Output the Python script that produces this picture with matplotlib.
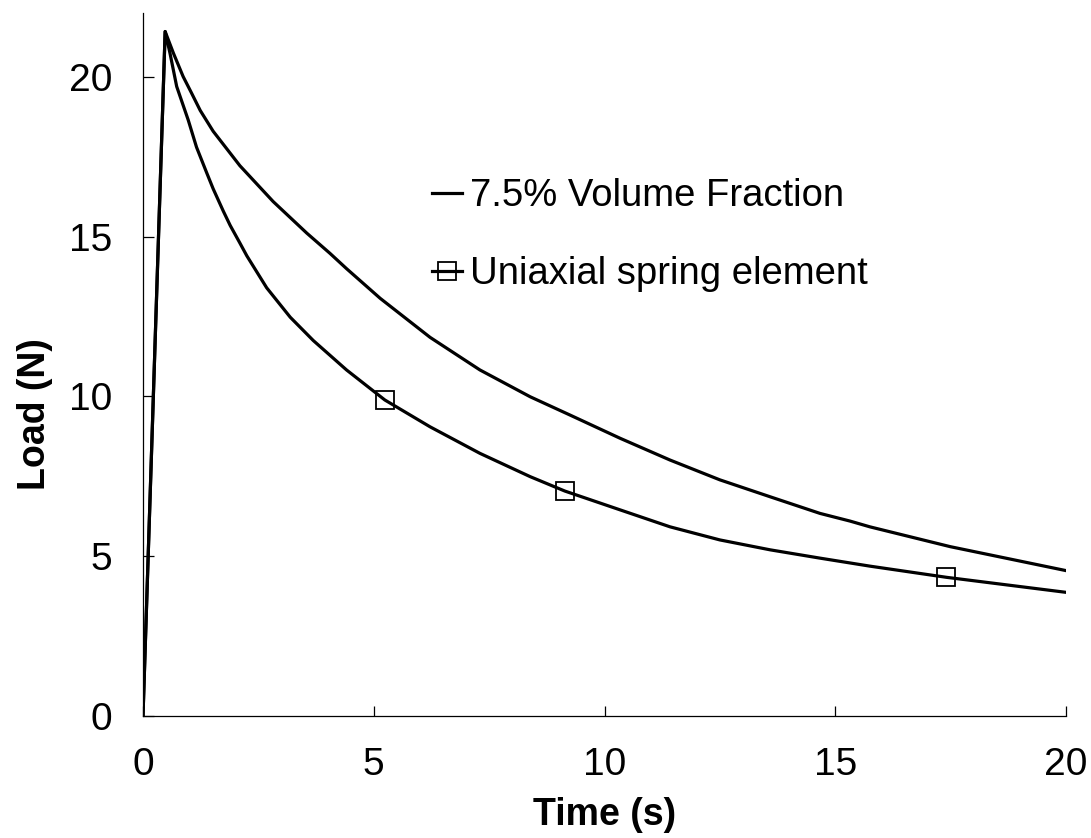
import matplotlib
matplotlib.use("Agg")
import matplotlib.pyplot as plt

plt.rcParams['font.family'] = ['Liberation Sans', 'DejaVu Sans']

# Data
t_upper = [0, 0.48, 0.66, 0.87, 1.05, 1.24, 1.52, 2.10, 2.82, 3.55, 4.05, 4.41, 5.14,
           6.22, 7.30, 8.39, 9.25, 10.34, 11.42, 12.50, 13.59, 14.67, 15.32, 15.75,
           17.49, 20.0]
load_upper = [0, 21.42, 20.74, 20.01, 19.50, 18.95, 18.30, 17.22, 16.10, 15.11, 14.48,
              14.00, 13.07, 11.85, 10.83, 9.99, 9.42, 8.69, 8.01, 7.39, 6.86, 6.34,
              6.10, 5.92, 5.30, 4.55]

t_lower = [0, 0.48, 0.585, 0.73, 0.98, 1.16, 1.38, 1.52, 1.74, 1.89, 2.10, 2.25, 2.68,
           3.19, 3.69, 4.41, 5.24, 6.22, 7.30, 8.39, 9.14, 10.34, 11.42, 12.50, 13.59,
           14.67, 15.75, 17.41, 20.0]
load_lower = [0, 21.42, 20.74, 19.70, 18.65, 17.80, 17.00, 16.50, 15.80, 15.35, 14.80,
              14.40, 13.40, 12.48, 11.75, 10.83, 9.89, 9.05, 8.22, 7.49, 7.04, 6.45,
              5.92, 5.51, 5.20, 4.94, 4.69, 4.34, 3.87]
marker_times = [5.24, 9.14, 17.41]

labels = ["7.5% Volume Fraction", "Uniaxial spring element"]
x_ticks = [0, 5, 10, 15, 20]
y_ticks = [0, 5, 10, 15, 20]

fig = plt.figure(figsize=(10.91, 8.38), dpi=100)
ax = fig.add_axes([143/1091, 1-716/838, (1066-143)/1091, (716-13)/838])

ax.plot(t_upper, load_upper, color='black', lw=2.3, label=labels[0],
        solid_joinstyle='round')
mk = [t_lower.index(m) for m in marker_times]
ax.plot(t_lower, load_lower, color='black', lw=2.3, marker='s', markevery=mk,
        markersize=13, markerfacecolor='none', markeredgecolor='black',
        markeredgewidth=1.3, label=labels[1], solid_joinstyle='round')

ax.set_xlim(0, 20)
ax.set_ylim(0, 22)
ax.set_xticks(x_ticks)
ax.set_yticks(y_ticks)
ax.spines['top'].set_visible(False)
ax.spines['right'].set_visible(False)
for s in ['left', 'bottom']:
    ax.spines[s].set_linewidth(0.9)
ax.tick_params(axis='both', direction='in', labelsize=28, width=0.9)
ax.tick_params(axis='y', length=8, pad=22)
ax.tick_params(axis='x', length=7, pad=22)

ax.set_xlabel("Time (s)", fontsize=27, fontweight='bold')
ax.set_ylabel("Load (N)", fontsize=27, fontweight='bold')
ax.xaxis.set_label_coords(0.5, -0.115)
ax.yaxis.set_label_coords(-0.097, 0.43)

leg = ax.legend(loc='upper left', bbox_to_anchor=(0.313, 0.765), frameon=False,
                fontsize=27.5, handlelength=0.8, handletextpad=0.2,
                labelspacing=1.1, borderpad=0, borderaxespad=0)

fig.savefig("out.png", dpi=100)
